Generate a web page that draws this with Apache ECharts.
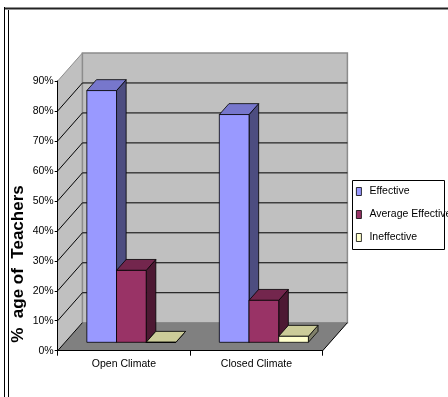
<!DOCTYPE html>
<html>
<head>
    <meta charset="utf-8">
    <title>% age of Teachers</title>
    <script src="https://cdn.jsdelivr.net/npm/echarts@6/dist/echarts.min.js"></script>
    <style>
        html, body { margin: 0; padding: 0; background: #fff; }
        #chart { width: 448px; height: 397px; }
    </style>
</head>
<body>
<div id="chart"></div>
<script type="text/javascript">
    // 数据
    var categories = ['Open Climate', 'Closed Climate'];
    var seriesNames = ['Effective', 'Average Effective', 'Ineffective'];
    var effective = [84, 76];
    var averageEffective = [24, 14];
    var ineffective = [0, 2];
    var yTicks = [0, 10, 20, 30, 40, 50, 60, 70, 80, 90];

    var font = "'Liberation Sans', Arial, sans-serif";
    // 3D 深度偏移
    var DX = 24.7, DY = -28;
    var T0 = 0.3, T1 = 0.69;

    // 各系列颜色: 正面, 顶面, 侧面
    var faces = [
        ['#9999ff', '#7777cc', '#4d4d80'],
        ['#993366', '#73264d', '#4d1933'],
        ['#ffffcc', '#cccc99', '#80806a']
    ];

    function wallItem(params, api) {
        var cs = params.coordSys;
        var x0 = cs.x, w = cs.width;
        var floorY = api.coord([0, 0])[1];
        var topY = api.coord([0, yTicks[yTicks.length - 1]])[1];
        var kids = [];
        // 侧墙
        kids.push({type: 'polygon', shape: {points: [[x0, floorY], [x0, topY], [x0 + DX, topY + DY], [x0 + DX, floorY + DY]]},
            style: {fill: '#c0c0c0', stroke: null}});
        // 背墙
        kids.push({type: 'rect', shape: {x: x0 + DX, y: topY + DY, width: w, height: floorY - topY},
            style: {fill: '#c0c0c0', stroke: '#8c8c8c', lineWidth: 1.5}});
        // 地板
        kids.push({type: 'polygon', shape: {points: [[x0, floorY], [x0 + DX, floorY + DY], [x0 + w + DX, floorY + DY], [x0 + w, floorY]]},
            style: {fill: '#808080', stroke: null}});
        kids.push({type: 'line', shape: {x1: x0 + w, y1: floorY, x2: x0 + w + DX, y2: floorY + DY},
            style: {stroke: '#000', lineWidth: 1}});
        yTicks.forEach(function (v) {
            var y = api.coord([0, v])[1];
            var last = v === yTicks[yTicks.length - 1];
            var col = last ? '#8c8c8c' : '#000';
            kids.push({type: 'line', shape: {x1: x0, y1: y, x2: x0 + DX, y2: y + DY}, style: {stroke: col, lineWidth: 1}});
            if (v > 0 && !last) {
                kids.push({type: 'line', shape: {x1: x0 + DX, y1: y + DY, x2: x0 + w + DX, y2: y + DY}, style: {stroke: '#000', lineWidth: 1}});
            }
        });
        return {type: 'group', children: kids};
    }

    function barRender(k) {
        return function (params, api) {
            var top = api.coord([api.value(0), api.value(1)]);
            var base = api.coord([api.value(0), 0]);
            var band = api.size([1, 0])[0];
            var bw = band * 0.224;
            var l = top[0] + (k - 1.5) * bw;
            var r = l + bw;
            var ax = DX * T0, ay = DY * T0, bx = DX * T1, by = DY * T1;
            var yt = top[1], yb = base[1];
            var edge = {stroke: '#000', lineWidth: 0.8, lineJoin: 'round'};
            return {
                type: 'group',
                children: [
                    {type: 'polygon', shape: {points: [[r + ax, yt + ay], [r + bx, yt + by], [r + bx, yb + by], [r + ax, yb + ay]]},
                        style: Object.assign({fill: faces[k][2]}, edge)},
                    {type: 'polygon', shape: {points: [[l + ax, yt + ay], [l + bx, yt + by], [r + bx, yt + by], [r + ax, yt + ay]]},
                        style: Object.assign({fill: faces[k][1]}, edge)},
                    {type: 'rect', shape: {x: l + ax, y: yt + ay, width: bw, height: yb - yt},
                        style: Object.assign({fill: faces[k][0]}, edge)}
                ]
            };
        };
    }

    var myChart = echarts.init(document.getElementById('chart'));
    var values = [effective, averageEffective, ineffective];

    var series = [{
        type: 'custom',
        silent: true,
        renderItem: wallItem,
        data: [[0, 0]],
        z: 1
    }];
    values.forEach(function (arr, k) {
        series.push({
            name: seriesNames[k],
            type: 'custom',
            renderItem: barRender(k),
            itemStyle: {color: faces[k][0]},
            data: arr.map(function (v, i) { return [i, v]; }),
            z: 2 + k
        });
    });

    myChart.setOption({
        animation: false,
        textStyle: {fontFamily: font},
        grid: {left: 57.7, top: 81, width: 265, bottom: 46.3},
        xAxis: {
            type: 'category',
            data: categories,
            axisLine: {lineStyle: {color: '#000', width: 1}},
            axisTick: {show: true, length: 5, lineStyle: {color: '#000'}},
            axisLabel: {fontSize: 10.5, color: '#000', margin: 8, fontFamily: font},
            z: 10
        },
        yAxis: {
            type: 'value',
            min: 0,
            max: 90,
            interval: 10,
            axisLine: {show: true, lineStyle: {color: '#000', width: 1}},
            axisTick: {show: true, length: 3, lineStyle: {color: '#000'}},
            axisLabel: {formatter: '{value}%', fontSize: 10.5, color: '#000', margin: 4, fontFamily: font},
            splitLine: {show: false},
            z: 10
        },
        legend: {
            data: seriesNames,
            orient: 'vertical',
            left: 356,
            top: 183,
            padding: 0,
            icon: 'rect',
            itemWidth: 5,
            itemHeight: 8,
            itemGap: 6,
            itemStyle: {borderColor: '#000', borderWidth: 0.8},
            textStyle: {fontSize: 10.5, lineHeight: 12, color: '#000', fontFamily: font, padding: [0, 0, 5, 3]}
        },
        graphic: [
            {type: 'rect', shape: {x: 352.5, y: 180.5, width: 92, height: 69}, style: {fill: '#fff', stroke: '#000', lineWidth: 1}, z: 0},
            {type: 'line', shape: {x1: 4, y1: 8.5, x2: 448, y2: 8.5}, style: {stroke: '#222', lineWidth: 2}},
            {type: 'line', shape: {x1: 4.5, y1: 7, x2: 4.5, y2: 397}, style: {stroke: '#000', lineWidth: 1}},
            {type: 'line', shape: {x1: 8.5, y1: 10, x2: 8.5, y2: 397}, style: {stroke: '#000', lineWidth: 1}},
            {type: 'text', x: 18.5, y: 264, rotation: Math.PI / 2,
                style: {text: '%  age of  Teachers', font: 'bold 17px ' + font, fill: '#000', align: 'center', verticalAlign: 'middle'}}
        ],
        series: series
    });
</script>
</body>
</html>
